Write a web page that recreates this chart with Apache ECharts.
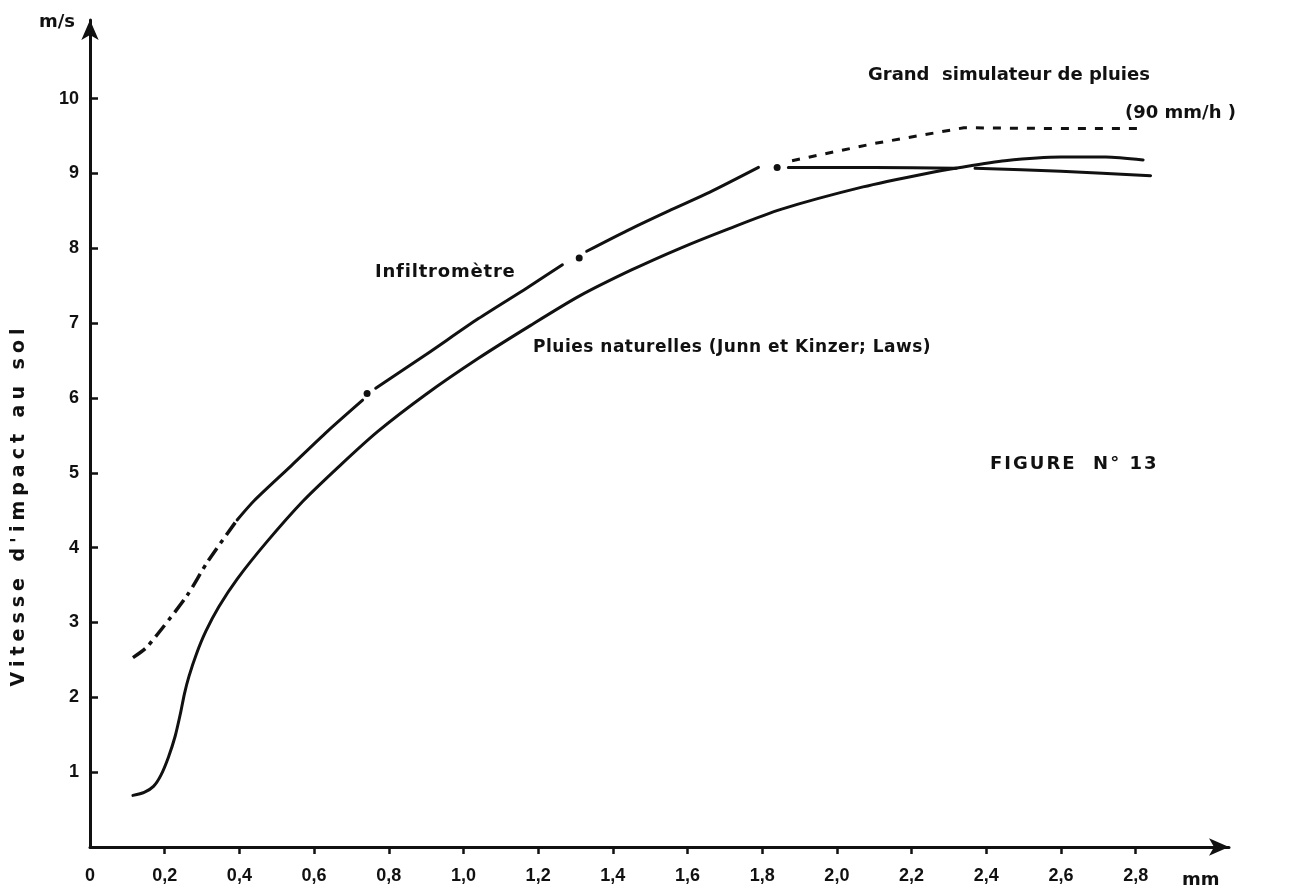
<!DOCTYPE html>
<html><head><meta charset="utf-8">
<script src="https://cdn.jsdelivr.net/npm/echarts@6/dist/echarts.min.js"></script>
<style>html,body{margin:0;padding:0;background:#fff}#c{width:1289px;height:894px}</style>
</head><body><div id="c"></div>
<script>
// ---- data ----
const xTickValues = [0.2,0.4,0.6,0.8,1.0,1.2,1.4,1.6,1.8,2.0,2.2,2.4,2.6,2.8];
const xLabelValues = [0,0.2,0.4,0.6,0.8,1.0,1.2,1.4,1.6,1.8,2.0,2.2,2.4,2.6,2.8];
const yTickValues = [1,2,3,4,5,6,7,8,9,10];

const naturalRain = [[0.115,0.69],[0.145,0.73],[0.17,0.81],[0.19,0.96],[0.21,1.2],[0.228,1.48],[0.242,1.78],[0.253,2.05],[0.265,2.28],[0.285,2.58],[0.31,2.88],[0.345,3.21],[0.394,3.58],[0.474,4.08],[0.57,4.62],[0.67,5.10],[0.77,5.55],[0.90,6.05],[1.04,6.53],[1.18,6.97],[1.31,7.36],[1.45,7.71],[1.58,8.00],[1.71,8.26],[1.85,8.52],[2.07,8.82],[2.24,9.00],[2.33,9.08],[2.45,9.17],[2.60,9.22],[2.72,9.22],[2.82,9.18]];

const infiltroDashDot = [[0.115,2.53],[0.15,2.66],[0.193,2.92],[0.26,3.36],[0.316,3.82],[0.394,4.37]];
const infiltroSeg1 = [[0.394,4.37],[0.44,4.63],[0.54,5.10],[0.635,5.55],[0.73,5.97]];
const infiltroSeg2 = [[0.765,6.13],[0.90,6.58],[1.04,7.06],[1.17,7.47],[1.265,7.78]];
const infiltroSeg3 = [[1.33,7.96],[1.44,8.24],[1.55,8.50],[1.66,8.75],[1.79,9.08]];
const infiltroSeg4 = [[1.87,9.08],[2.10,9.08],[2.32,9.07]];
const infiltroSeg5 = [[2.37,9.07],[2.60,9.03],[2.84,8.97]];
const infiltroDots = [[0.742,6.06],[1.31,7.87],[1.84,9.08]];

const simulator = [[1.88,9.17],[2.10,9.40],[2.34,9.61],[2.60,9.60],[2.82,9.60]];

const labelInfiltro = 'Infiltromètre';
const labelNatural = 'Pluies naturelles (Junn et Kinzer; Laws)';
const labelSimul1 = 'Grand  simulateur de pluies';
const labelSimul2 = '(90 mm/h )';
const labelFigure = 'FIGURE  N° 13';
const yName = "Vitesse d'impact au sol";
const yUnit = 'm/s';
const xUnit = 'mm';

// ---- letter tracking of the original typesetting (canvas letterSpacing) ----
const tracking = {};
tracking[yName] = 5; tracking[labelFigure] = 2; tracking[labelInfiltro] = 0.8; tracking[labelNatural] = 0.5;
(function () {
  const P = CanvasRenderingContext2D.prototype;
  if (!('letterSpacing' in P)) return;
  const origFill = P.fillText;
  P.fillText = function (t, x, y, m) {
    const want = (tracking[t] || 0) + 'px';
    const f = this.font;
    this.letterSpacing = want;
    this.font = f;
    if (m === undefined) origFill.call(this, t, x, y); else origFill.call(this, t, x, y, m);
    this.letterSpacing = '0px';
    this.font = f;
  };
})();

// ---- chart ----
const INK = '#111';
const FONT = '"DejaVu Sans"';
const tickFont = { fontFamily: 'Liberation Sans', fontWeight: 'bold', fontSize: 18, color: INK };

function solid(data) {
  return { type: 'line', data: data, showSymbol: false, smooth: 0.25, silent: true,
    lineStyle: { color: INK, width: 3, cap: 'round' } };
}

const series = [
  solid(naturalRain),
  Object.assign(solid(infiltroDashDot), { lineStyle: { color: INK, width: 3.5, type: [15, 6, 4, 6], cap: 'butt' } }),
  solid(infiltroSeg1), solid(infiltroSeg2), solid(infiltroSeg3), solid(infiltroSeg4), solid(infiltroSeg5),
  { type: 'scatter', data: infiltroDots, symbolSize: 7, itemStyle: { color: INK, opacity: 1 }, silent: true },
  { type: 'line', data: simulator, showSymbol: false, smooth: false, silent: true,
    lineStyle: { color: INK, width: 3, type: [8, 9] } }
];

function txt(x, y, text, size) {
  return { type: 'text', x: x, y: y, style: { text: text, font: 'bold ' + size + 'px ' + FONT, fill: INK, verticalAlign: 'middle' } };
}

const chart = echarts.init(document.getElementById('c'), null, { renderer: 'canvas' });
chart.setOption({
  animation: false,
  backgroundColor: '#fff',
  grid: { left: 90, right: 60, top: 20, bottom: 47, containLabel: false },
  xAxis: {
    type: 'value', min: 0, max: 3.05,
    axisLine: { show: true, onZero: false, symbol: ['none', 'arrow'], symbolSize: [13, 20],
      lineStyle: { color: INK, width: 3 } },
    axisTick: { show: true, customValues: xTickValues, length: 7, lineStyle: { color: INK, width: 2.5 } },
    axisLabel: Object.assign({ customValues: xLabelValues, margin: 20,
      formatter: function (v) { return v === 0 ? '0' : v.toFixed(1).replace('.', ','); } }, tickFont),
    splitLine: { show: false }
  },
  yAxis: {
    type: 'value', min: 0, max: 11.05,
    axisLine: { show: true, onZero: false, symbol: ['none', 'arrow'], symbolSize: [13, 20],
      lineStyle: { color: INK, width: 3 } },
    axisTick: { show: true, inside: true, customValues: yTickValues, length: 8, lineStyle: { color: INK, width: 2.5 } },
    axisLabel: Object.assign({ customValues: yTickValues, margin: 11,
      formatter: function (v) { return String(v); } }, tickFont),
    splitLine: { show: false }
  },
  series: series,
  graphic: [
    txt(39, 22, yUnit, 18),
    txt(1182, 880, xUnit, 18),
    { type: 'text', x: 19, y: 505, rotation: Math.PI / 2, style: { text: yName, font: 'bold 19px ' + FONT, fill: INK, align: 'center', verticalAlign: 'middle' } },
    txt(375, 272, labelInfiltro, 18),
    txt(533, 348, labelNatural, 17),
    txt(990, 464, labelFigure, 18),
    txt(868, 75, labelSimul1, 18),
    txt(1125, 113, labelSimul2, 18)
  ]
});
</script>
</body></html>
